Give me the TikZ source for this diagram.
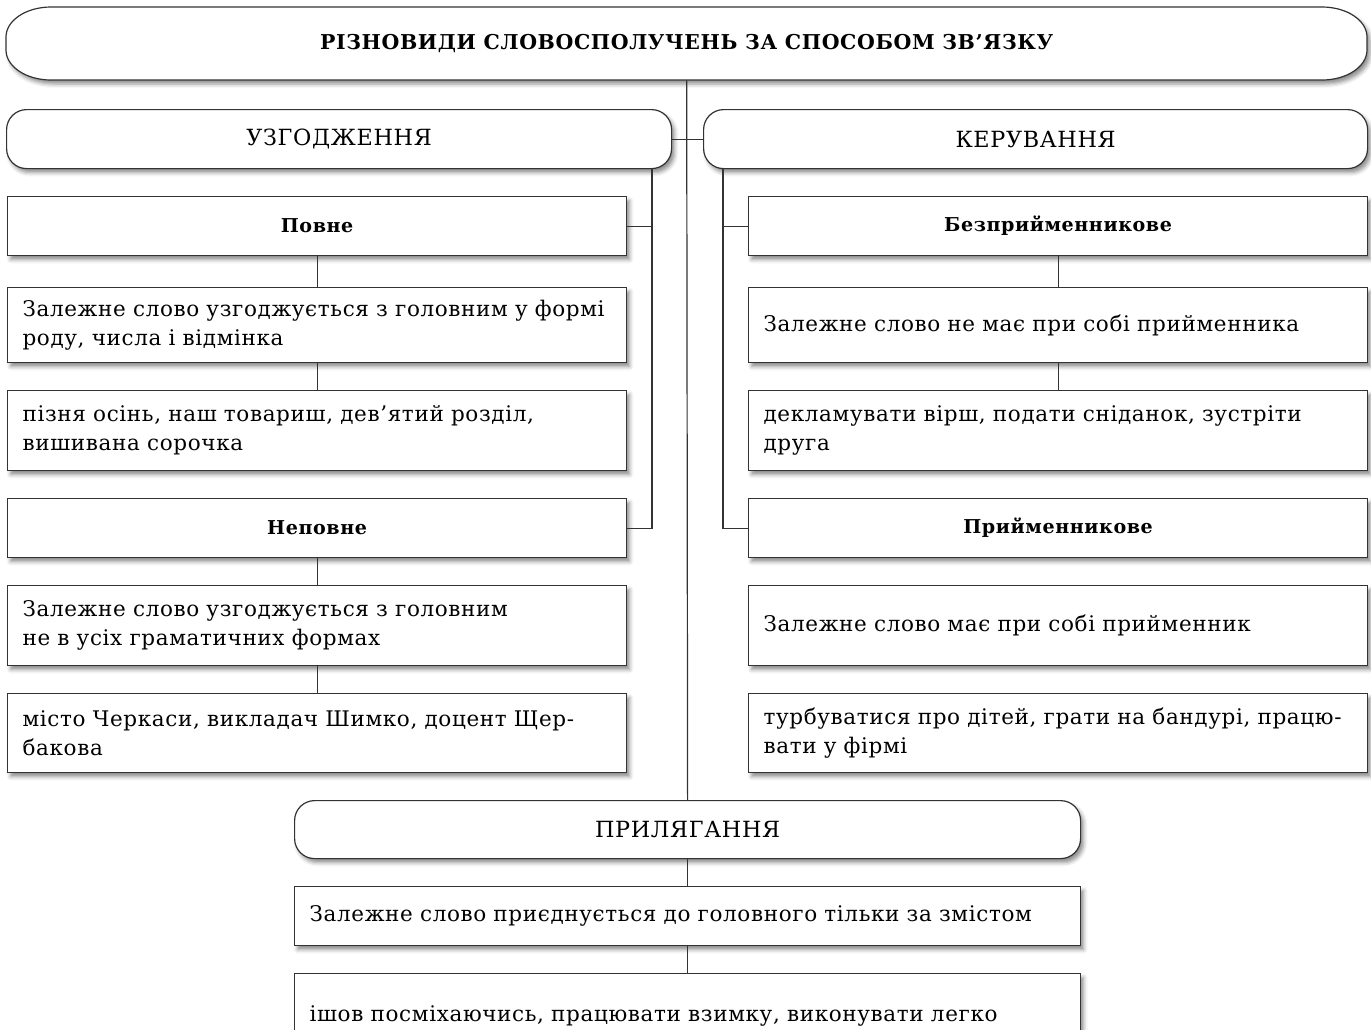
\documentclass[tikz,border=0pt]{standalone}
\usepackage{fontspec}
\setmainfont{DejaVu Serif}[LetterSpace=3]
\usetikzlibrary{shadows.blur}
\definecolor{ln}{HTML}{333333}
\tikzset{
  x=1pt,y=-1pt,
  conn/.style={draw=ln, line width=1.2pt},
  sh/.style={blur shadow={shadow xshift=3pt, shadow yshift=-4pt, shadow blur radius=4pt, shadow opacity=45}},
  frame/.style={draw=ln, line width=1.2pt, fill=white, sh},
  box/.style={frame, anchor=north west, inner ysep=0pt, inner xsep=15pt,
    font=\fontsize{21.5}{29}\selectfont, text=black},
  col/.style={box, text width=589pt, align=left},
  hcol/.style={box, text width=589pt, align=center, minimum height=59pt, font=\fontsize{19.1}{22}\selectfont\bfseries},
  bot/.style={box, text width=756pt, align=left},
  rhead/.style={box, rounded corners=20pt, align=center, font=\fontsize{22.3}{24}\selectfont},
}
\begin{document}
\begin{tikzpicture}
\useasboundingbox (0,0) rectangle (1371,1029);
% title frame with elliptical ends
\path[frame] (51,7) -- (1322,7) arc[start angle=90,end angle=0,x radius=45pt,y radius=30pt]
  -- (1367,50) arc[start angle=0,end angle=-90,x radius=45pt,y radius=30pt]
  -- (51,80) arc[start angle=270,end angle=180,x radius=45pt,y radius=30pt]
  -- (6,37) arc[start angle=180,end angle=90,x radius=45pt,y radius=30pt] -- cycle;
\node[anchor=north west, minimum width=1361pt, minimum height=73pt, inner sep=0pt, font=\fontsize{20.45}{24}\selectfont\bfseries] (title) at (6,7) {РІЗНОВИДИ СЛОВОСПОЛУЧЕНЬ ЗА СПОСОБОМ ЗВ’ЯЗКУ};
\node[rhead, minimum width=665pt, minimum height=59pt] (uzg) at (6,109) {УЗГОДЖЕННЯ};
\node[rhead, minimum width=664pt, minimum height=59pt] (ker) at (703,109) {КЕРУВАННЯ};
% left column
\node[hcol] (povne) at (7,196) {Повне};
\node[col, minimum height=75pt] (l1) at (7,287) {Залежне слово узгоджується з головним у формі\\роду, числа і відмінка};
\node[col, minimum height=80pt] (l2) at (7,390) {пізня осінь, наш товариш, дев’ятий розділ,\\вишивана сорочка};
\node[hcol] (nepovne) at (7,498) {Неповне};
\node[col, minimum height=80pt] (l3) at (7,585) {Залежне слово узгоджується з головним\\не в усіх граматичних формах};
\node[col, minimum height=79pt] (l4) at (7,693) {місто Черкаси, викладач Шимко, доцент Щер-\\бакова};
% right column
\node[hcol] (bez) at (748,196) {Безприйменникове};
\node[col, minimum height=75pt] (r1) at (748,287) {Залежне слово не має при собі прийменника};
\node[col, minimum height=80pt] (r2) at (748,390) {декламувати вірш, подати сніданок, зустріти\\друга};
\node[hcol] (pri) at (748,498) {Прийменникове};
\node[col, minimum height=80pt] (r3) at (748,585) {Залежне слово має при собі прийменник};
\node[col, minimum height=79pt] (r4) at (748,693) {турбуватися про дітей, грати на бандурі, працю-\\вати у фірмі};
% bottom
\node[rhead, minimum width=786pt, minimum height=58pt] (pril) at (294,800) {ПРИЛЯГАННЯ};
\node[bot, minimum height=59pt] (b1) at (294,886) {Залежне слово приєднується до головного тільки за змістом};
\node[bot, minimum height=84pt] (b2) at (294,973) {ішов посміхаючись, працювати взимку, виконувати легко};
% connectors
\coordinate (lvx) at (652,0);
\coordinate (rvx) at (723,0);
\draw[conn] (title.south) -- (pril.north);
\draw[conn] (uzg.east) -- (ker.west);
\draw[conn] (uzg.south -| lvx) -- (nepovne.east -| lvx) -- (nepovne.east);
\draw[conn] (povne.east) -- (povne.east -| lvx);
\draw[conn] (ker.south -| rvx) -- (pri.west -| rvx) -- (pri.west);
\draw[conn] (bez.west) -- (bez.west -| rvx);
\draw[conn] (povne.south) -- (l1.north);
\draw[conn] (l1.south) -- (l2.north);
\draw[conn] (nepovne.south) -- (l3.north);
\draw[conn] (l3.south) -- (l4.north);
\draw[conn] (bez.south) -- (r1.north);
\draw[conn] (r1.south) -- (r2.north);
\draw[conn] (pril.south) -- (b1.north);
\draw[conn] (b1.south) -- (b2.north);
\end{tikzpicture}
\end{document}
